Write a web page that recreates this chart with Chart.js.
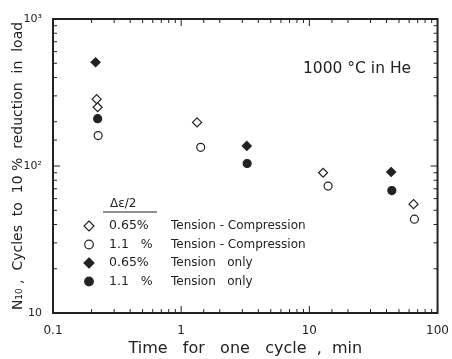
<!DOCTYPE html>
<html>
<head>
<meta charset="utf-8">
<script src="https://cdn.jsdelivr.net/npm/chart.js@4.4.1/dist/chart.umd.min.js"></script>
<style>
  html, body { margin: 0; padding: 0; background: #fff; }
  #wrap { width: 452px; height: 359px; }
</style>
</head>
<body>
<div id="wrap"><canvas id="fatigueChart"></canvas></div>
<script>
// values (time in min, N10 in cycles)
const tcTime065 = [0.219, 0.223, 1.33, 12.8, 65];
const tcN065 = [285, 251, 198, 90, 55];
const tcTime11 = [0.225, 1.42, 14.0, 66];
const tcN11 = [161, 134, 73, 43.5];
const tTime065 = [0.215, 3.25, 43.5];
const tN065 = [508, 137, 91];
const tTime11 = [0.223, 3.27, 44];
const tN11 = [210, 104, 68];

const xTicks = [0.1, 1, 10, 100];
const xTickLabels = ["0.1", "1", "10", "100"];
const yTicks = [10, 100, 1000];
const yTickLabels = ["10", "10\u00B2", "10\u00B3"];

const legendRows = [
  ["0.65%", "Tension - Compression"],
  ["1.1   %", "Tension - Compression"],
  ["0.65%", "Tension   only"],
  ["1.1   %", "Tension   only"]
];

const ink = "#222";
const fontFamily = "'DejaVu Sans', sans-serif";

function toPoints(xs, ys) {
  return xs.map((x, i) => ({ x: x, y: ys[i] }));
}

function majorLabel(value, list, labels) {
  for (let i = 0; i < list.length; i++) {
    if (Math.abs(value - list[i]) / list[i] < 1e-6) return labels[i];
  }
  return "";
}

// frame, inward ticks, note and legend
const framePlugin = {
  id: "framePlugin",
  afterDraw(chart) {
    const ctx = chart.ctx;
    const a = chart.chartArea;
    ctx.save();
    ctx.strokeStyle = ink;
    ctx.lineWidth = 2;
    ctx.strokeRect(a.left, a.top, a.right - a.left, a.bottom - a.top);

    ctx.lineWidth = 1;
    const xs = chart.scales.x;
    xs.ticks.forEach(t => {
      const px = xs.getPixelForValue(t.value);
      const len = majorLabel(t.value, xTicks, xTickLabels) ? 7 : 4;
      ctx.beginPath();
      ctx.moveTo(px, a.bottom); ctx.lineTo(px, a.bottom - len);
      ctx.moveTo(px, a.top); ctx.lineTo(px, a.top + len);
      ctx.stroke();
    });
    const ys = chart.scales.y;
    ys.ticks.forEach(t => {
      const py = ys.getPixelForValue(t.value);
      const len = majorLabel(t.value, yTicks, yTickLabels) ? 7 : 4;
      ctx.beginPath();
      ctx.moveTo(a.left, py); ctx.lineTo(a.left + len, py);
      ctx.moveTo(a.right, py); ctx.lineTo(a.right - len, py);
      ctx.stroke();
    });

    ctx.fillStyle = ink;
    ctx.font = "15.5px " + fontFamily;
    ctx.textBaseline = "middle";
    ctx.fillText("1000 \u00B0C in He", 303, 69);

    // legend
    ctx.font = "12px " + fontFamily;
    ctx.fillText("\u0394\u03B5/2", 110, 204);
    ctx.beginPath();
    ctx.moveTo(103, 212); ctx.lineTo(157, 212);
    ctx.stroke();
    const styles = chart.data.datasets;
    legendRows.forEach((row, i) => {
      const y = 226 + i * 18.5;
      const ds = styles[i];
      ctx.beginPath();
      if (ds.pointStyle === "rectRot") {
        const r = 5;
        ctx.moveTo(89, y - r); ctx.lineTo(89 + r, y); ctx.lineTo(89, y + r); ctx.lineTo(89 - r, y);
        ctx.closePath();
      } else {
        ctx.arc(89, y, 4.3, 0, Math.PI * 2);
      }
      ctx.fillStyle = ds.backgroundColor;
      ctx.fill();
      ctx.lineWidth = 1.2;
      ctx.strokeStyle = ink;
      ctx.stroke();
      ctx.fillStyle = ink;
      ctx.font = "12.5px " + fontFamily;
      ctx.fillText(row[0], 109, y);
      ctx.font = "12px " + fontFamily;
      ctx.fillText(row[1], 171, y);
    });
    ctx.restore();
  }
};

new Chart(document.getElementById("fatigueChart"), {
  type: "scatter",
  data: {
    datasets: [
      { label: "0.65% Tension - Compression", data: toPoints(tcTime065, tcN065),
        pointStyle: "rectRot", radius: 4.5, backgroundColor: "#fff", borderColor: ink, borderWidth: 1.2 },
      { label: "1.1 % Tension - Compression", data: toPoints(tcTime11, tcN11),
        pointStyle: "circle", radius: 4, backgroundColor: "#fff", borderColor: ink, borderWidth: 1.2 },
      { label: "0.65% Tension only", data: toPoints(tTime065, tN065),
        pointStyle: "rectRot", radius: 4.5, backgroundColor: ink, borderColor: ink, borderWidth: 1.2 },
      { label: "1.1 % Tension only", data: toPoints(tTime11, tN11),
        pointStyle: "circle", radius: 4, backgroundColor: ink, borderColor: ink, borderWidth: 1.2 }
    ]
  },
  options: {
    responsive: true,
    maintainAspectRatio: false,
    animation: false,
    devicePixelRatio: 1,
    layout: { padding: { top: 19, right: 14, left: 0, bottom: 0 } },
    plugins: { legend: { display: false }, tooltip: { enabled: false } },
    scales: {
      x: {
        type: "logarithmic",
        min: 0.1,
        max: 100,
        border: { display: false },
        grid: { display: false },
        afterFit: s => { s.height = 46; },
        ticks: {
          autoSkip: false,
          maxRotation: 0,
          padding: 3,
          color: ink,
          font: { family: fontFamily, size: 12 },
          callback: v => majorLabel(v, xTicks, xTickLabels)
        },
        title: {
          display: true,
          text: "Time   for   one   cycle  ,  min",
          color: ink,
          font: { family: fontFamily, size: 16 },
          padding: { top: 2, bottom: 1 }
        }
      },
      y: {
        type: "logarithmic",
        min: 10,
        max: 1000,
        border: { display: false },
        grid: { display: false },
        afterFit: s => { s.width = 53; },
        ticks: {
          autoSkip: false,
          padding: 3,
          color: ink,
          font: { family: fontFamily, size: 11 },
          callback: v => majorLabel(v, yTicks, yTickLabels)
        },
        title: {
          display: true,
          text: "N\u2081\u2080 ,  Cycles  to  10 %  reduction  in  load",
          color: ink,
          font: { family: fontFamily, size: 14 },
          padding: { top: 10, bottom: 0 }
        }
      }
    }
  },
  plugins: [framePlugin]
});
</script>
</body>
</html>
